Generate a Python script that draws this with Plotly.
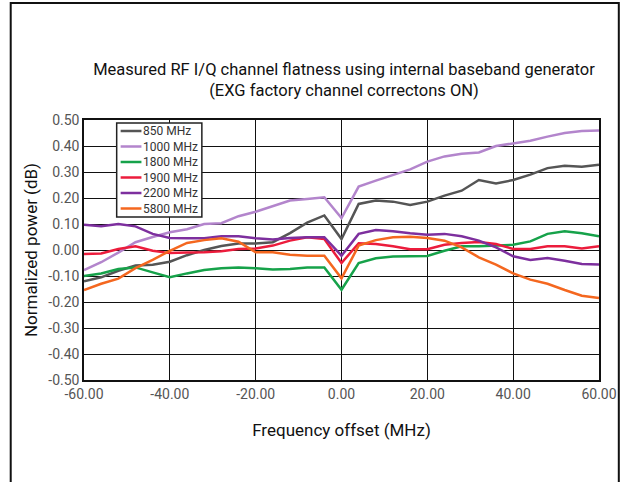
import plotly.graph_objects as go

freq_offset = [-60, -56, -52, -48, -44, -40, -36, -32, -28, -24, -20, -16, -12, -8, -4,
               0, 4, 8, 12, 16, 20, 24, 28, 32, 36, 40, 44, 48, 52, 56, 60]

series_names = ["850 MHz", "1000 MHz", "1800 MHz", "1900 MHz", "2200 MHz", "5800 MHz"]

p850 = [-0.12, -0.105, -0.08, -0.06, -0.057, -0.045, -0.02, 0.00, 0.015, 0.025, 0.025, 0.03, 0.065, 0.105, 0.133,
        0.042, 0.177, 0.19, 0.186, 0.173, 0.186, 0.209, 0.228, 0.269, 0.256, 0.269, 0.29, 0.315, 0.324, 0.32, 0.328]
p1000 = [-0.077, -0.047, -0.01, 0.03, 0.05, 0.068, 0.08, 0.10, 0.103, 0.13, 0.147, 0.167, 0.19, 0.196, 0.203,
         0.123, 0.244, 0.267, 0.29, 0.31, 0.34, 0.36, 0.37, 0.375, 0.40, 0.41, 0.42, 0.436, 0.45, 0.458, 0.46]
p1800 = [-0.10, -0.09, -0.073, -0.067, -0.086, -0.105, -0.09, -0.077, -0.07, -0.067, -0.07, -0.075, -0.073, -0.067, -0.067,
         -0.153, -0.05, -0.032, -0.025, -0.023, -0.023, -0.003, 0.014, 0.014, 0.017, 0.02, 0.033, 0.062, 0.072, 0.064, 0.053]
p1900 = [-0.015, -0.013, 0.004, 0.014, -0.003, -0.012, -0.01, -0.009, -0.005, 0.004, 0.006, 0.017, 0.036, 0.049, 0.042,
         -0.05, 0.026, 0.023, 0.014, 0.003, 0.003, 0.02, 0.027, 0.031, 0.023, 0.004, 0.004, 0.014, 0.014, 0.006, 0.014]
p2200 = [0.097, 0.091, 0.10, 0.091, 0.062, 0.046, 0.045, 0.045, 0.053, 0.053, 0.045, 0.04, 0.046, 0.049, 0.049,
         -0.022, 0.062, 0.077, 0.072, 0.064, 0.059, 0.062, 0.053, 0.036, 0.01, -0.024, -0.038, -0.031, -0.041, -0.054, -0.056]
p5800 = [-0.154, -0.13, -0.11, -0.07, -0.038, -0.003, 0.027, 0.038, 0.045, 0.032, -0.009, -0.009, -0.018, -0.022, -0.022,
         -0.109, 0.017, 0.038, 0.049, 0.051, 0.046, 0.036, 0.01, -0.028, -0.056, -0.09, -0.114, -0.13, -0.154, -0.176, -0.185]

series_values = [p850, p1000, p1800, p1900, p2200, p5800]
colors = ["#555555", "#b385cc", "#16a24a", "#ec1c3c", "#7d2f9e", "#f4671f"]

x_ticks = [-60, -40, -20, 0, 20, 40, 60]
x_tick_labels = ["-60.00", "-40.00", "-20.00", "0.00", "20.00", "40.00", "60.00"]
y_ticks = [0.5, 0.4, 0.3, 0.2, 0.1, 0.0, -0.1, -0.2, -0.3, -0.4, -0.5]
y_tick_labels = ["0.50", "0.40", "0.30", "0.20", "0.10", "0.00", "-0.10", "-0.20", "-0.30", "-0.40", "-0.50"]

FONT = "Roboto, Liberation Sans Narrow, sans-serif"

fig = go.Figure()
for name, vals, c in zip(series_names, series_values, colors):
    fig.add_trace(go.Scatter(x=freq_offset, y=vals, mode="lines", name=name,
                             line=dict(color=c, width=2.5), showlegend=False))

fig.update_layout(
    width=629, height=482,
    paper_bgcolor="white", plot_bgcolor="white",
    margin=dict(l=84, r=25, t=120, b=102),
    font=dict(family=FONT, color="#222222"),
    title=dict(text="Measured RF I/Q channel flatness using internal baseband generator<br>(EXG factory channel correctons ON)",
               x=(84 + 520 / 2) / 629, xanchor="center", y=1 - 75 / 482, yanchor="top",
               font=dict(size=16.5, color="#111111", family=FONT)),
    showlegend=False,
)

fig.update_xaxes(range=[-60, 60], tickvals=x_ticks, ticktext=x_tick_labels,
                 showgrid=True, gridcolor="#111111", gridwidth=1.3,
                 showline=True, linecolor="#111111", linewidth=1.5, mirror=True,
                 zeroline=False, ticks="", tickfont=dict(size=14, color="#555555", family=FONT),
                 title=dict(text="Frequency offset (MHz)", font=dict(size=17, color="#111111", family=FONT), standoff=24))
fig.update_yaxes(range=[-0.5, 0.5], tickvals=y_ticks, ticktext=y_tick_labels,
                 showgrid=True, gridcolor="#111111", gridwidth=1.3,
                 showline=True, linecolor="#111111", linewidth=1.5, mirror=True,
                 zeroline=False, ticks="", tickfont=dict(size=14, color="#555555", family=FONT),
                 title=dict(text="Normalized power (dB)", font=dict(size=17, color="#111111", family=FONT), standoff=6))

# legend box drawn in paper coordinates
PW, PH = 520.0, 260.0
def px(x):  # screen x -> paper
    return (x - 84) / PW
def py(y):  # screen y -> paper
    return (380 - y) / PH

fig.add_shape(type="rect", xref="paper", yref="paper",
              x0=px(117), x1=px(203), y0=py(217), y1=py(123),
              fillcolor="white", line=dict(color="#222222", width=1.5), layer="above")
for i, (name, c) in enumerate(zip(series_names, colors)):
    yc = 131 + i * 15.5
    fig.add_shape(type="line", xref="paper", yref="paper",
                  x0=px(121), x1=px(142), y0=py(yc), y1=py(yc),
                  line=dict(color=c, width=2.5), layer="above")
    fig.add_annotation(xref="paper", yref="paper", x=px(142), y=py(yc),
                       xanchor="left", yanchor="middle", showarrow=False,
                       text=name, font=dict(size=12, color="#333333", family=FONT))

# outer frame around the figure
fig.add_shape(type="path", xref="paper", yref="paper",
              path="M %f,%f L %f,%f L %f,%f L %f,%f" % (px(10), py(490), px(10), py(3), px(624), py(3), px(624), py(490)),
              line=dict(color="#111111", width=2))

fig.write_html("out.html", config={"displayModeBar": False},
               post_script="document.body.style.margin='0';document.body.style.overflow='hidden';")
